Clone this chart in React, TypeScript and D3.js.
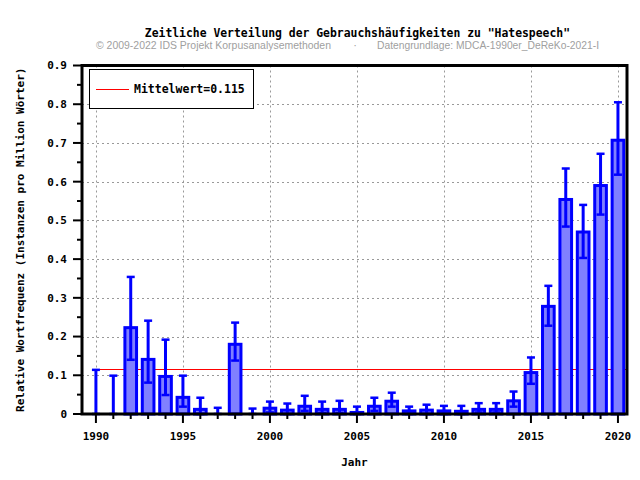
import React, { useEffect, useRef } from "react";
import * as d3 from "d3";

const W = 640;
const H = 480;

const years = [
  1990, 1991, 1992, 1993, 1994, 1995, 1996, 1997, 1998, 1999, 2000, 2001, 2002, 2003, 2004, 2005,
  2006, 2007, 2008, 2009, 2010, 2011, 2012, 2013, 2014, 2015, 2016, 2017, 2018, 2019, 2020,
];
const values = [
  0, 0, 0.223, 0.141, 0.097, 0.043, 0.012, 0, 0.18, 0, 0.015, 0.01, 0.02, 0.012, 0.012, 0.004,
  0.02, 0.033, 0.008, 0.01, 0.008, 0.007, 0.012, 0.012, 0.034, 0.107, 0.278, 0.554, 0.47, 0.59, 0.707,
];
const errLow = [
  0, 0, 0.14, 0.081, 0.049, 0.019, 0, 0, 0.138, 0, 0.004, 0, 0.008, 0.003, 0.003, 0,
  0.008, 0.019, 0, 0, 0, 0, 0.004, 0.004, 0.019, 0.078, 0.228, 0.484, 0.403, 0.515, 0.618,
];
const errHigh = [
  0.114, 0.099, 0.354, 0.241, 0.192, 0.099, 0.042, 0.016, 0.236, 0.014, 0.032, 0.027, 0.047, 0.032, 0.034, 0.019,
  0.042, 0.055, 0.019, 0.024, 0.021, 0.021, 0.028, 0.028, 0.058, 0.146, 0.331, 0.634, 0.54, 0.672, 0.805,
];
const meanValue = 0.115;
const xMajorTicks = [1990, 1995, 2000, 2005, 2010, 2015, 2020];
const yMajorTicks = [0, 0.1, 0.2, 0.3, 0.4, 0.5, 0.6, 0.7, 0.8, 0.9];
const yMinorTicks = [0.05, 0.15, 0.25, 0.35, 0.45, 0.55, 0.65, 0.75, 0.85];

const MONO = "'DejaVu Sans Mono', monospace";

const App: React.FC = () => {
  const ref = useRef<SVGSVGElement>(null);

  useEffect(() => {
    document.body.style.margin = "0";
    if (!ref.current) return;
    const svg = d3.select(ref.current);
    svg.selectAll("*").remove();

    const left = 82;
    const right = 627;
    const top = 65.5;
    const bottom = 414;

    const x = d3.scaleLinear().domain([1989.2, 2020.52]).range([left, right]);
    const y = d3.scaleLinear().domain([0, 0.9]).range([bottom, top]);
    const barW = x(1990.67) - x(1990);

    // grid
    const grid = svg.append("g").attr("stroke", "#999").attr("stroke-width", 1).attr("stroke-dasharray", "2,3");
    grid.selectAll("line.v")
      .data(xMajorTicks)
      .enter()
      .append("line")
      .attr("x1", (d) => Math.round(x(d)) + 0.5)
      .attr("x2", (d) => Math.round(x(d)) + 0.5)
      .attr("y1", top)
      .attr("y2", bottom);
    grid.selectAll("line.h")
      .data(yMajorTicks.slice(1, -1))
      .enter()
      .append("line")
      .attr("x1", left)
      .attr("x2", right)
      .attr("y1", (d) => Math.round(y(d)) + 0.5)
      .attr("y2", (d) => Math.round(y(d)) + 0.5);

    // mean line
    svg.append("line")
      .attr("x1", x(1990))
      .attr("x2", right)
      .attr("y1", Math.round(y(meanValue)) + 0.5)
      .attr("y2", Math.round(y(meanValue)) + 0.5)
      .attr("stroke", "#ff0000")
      .attr("stroke-width", 1);

    const rows = years.map((yr, i) => ({ yr, v: values[i], lo: errLow[i], hi: errHigh[i] }));

    // bars
    svg.selectAll("rect.bar")
      .data(rows.filter((d) => d.v > 0))
      .enter()
      .append("rect")
      .attr("x", (d) => x(d.yr) - barW / 2)
      .attr("width", barW)
      .attr("y", (d) => y(d.v))
      .attr("height", (d) => y(0) - y(d.v))
      .attr("fill", "#8080ff")
      .attr("stroke", "#0000ff")
      .attr("stroke-width", 3);

    // error bars
    const err = svg.append("g").attr("stroke", "#0000ff");
    err.selectAll("line.e")
      .data(rows)
      .enter()
      .append("line")
      .attr("x1", (d) => x(d.yr))
      .attr("x2", (d) => x(d.yr))
      .attr("y1", (d) => y(d.lo))
      .attr("y2", (d) => y(d.hi))
      .attr("stroke-width", 3);
    err.selectAll("line.ct")
      .data(rows)
      .enter()
      .append("line")
      .attr("x1", (d) => x(d.yr) - 4)
      .attr("x2", (d) => x(d.yr) + 4)
      .attr("y1", (d) => y(d.hi))
      .attr("y2", (d) => y(d.hi))
      .attr("stroke-width", 2.5);
    err.selectAll("line.cb")
      .data(rows)
      .enter()
      .append("line")
      .attr("x1", (d) => x(d.yr) - 4)
      .attr("x2", (d) => x(d.yr) + 4)
      .attr("y1", (d) => y(d.lo))
      .attr("y2", (d) => y(d.lo))
      .attr("stroke-width", 2.5);

    // ticks
    const ticks = svg.append("g").attr("stroke", "#000").attr("stroke-width", 2);
    ticks.selectAll("line.xm")
      .data(years)
      .enter()
      .append("line")
      .attr("x1", (d) => x(d))
      .attr("x2", (d) => x(d))
      .attr("y1", bottom)
      .attr("y2", (d) => (xMajorTicks.includes(d) ? bottom + 9 : bottom + 5));
    ticks.selectAll("line.ym")
      .data(yMajorTicks)
      .enter()
      .append("line")
      .attr("x1", left - 9)
      .attr("x2", left)
      .attr("y1", (d) => y(d))
      .attr("y2", (d) => y(d));
    ticks.selectAll("line.yn")
      .data(yMinorTicks)
      .enter()
      .append("line")
      .attr("x1", left - 5)
      .attr("x2", left)
      .attr("y1", (d) => y(d))
      .attr("y2", (d) => y(d));

    // frame
    svg.append("rect")
      .attr("x", left)
      .attr("y", top)
      .attr("width", right - left)
      .attr("height", bottom - top)
      .attr("fill", "none")
      .attr("stroke", "#000")
      .attr("stroke-width", 3);

    // tick labels
    svg.selectAll("text.xl")
      .data(xMajorTicks)
      .enter()
      .append("text")
      .attr("x", (d) => x(d))
      .attr("y", 440)
      .attr("text-anchor", "middle")
      .style("font-family", MONO)
      .style("font-weight", "bold")
      .style("font-size", "11px")
      .text((d) => String(d));
    svg.selectAll("text.yl")
      .data(yMajorTicks)
      .enter()
      .append("text")
      .attr("x", 67)
      .attr("y", (d) => y(d))
      .attr("dy", "0.35em")
      .attr("text-anchor", "end")
      .style("font-family", MONO)
      .style("font-weight", "bold")
      .style("font-size", "11px")
      .text((d) => (d === 0 ? "0" : d3.format(".1f")(d)));

    // axis titles
    svg.append("text")
      .attr("x", (left + right) / 2)
      .attr("y", 466)
      .attr("text-anchor", "middle")
      .style("font-family", MONO)
      .style("font-weight", "bold")
      .style("font-size", "11px")
      .text("Jahr");
    svg.append("text")
      .attr("transform", `translate(24,${(top + bottom) / 2}) rotate(-90)`)
      .attr("text-anchor", "middle")
      .style("font-family", MONO)
      .style("font-weight", "bold")
      .style("font-size", "11px")
      .text("Relative Wortfrequenz (Instanzen pro Million Wörter)");

    // title
    svg.append("text")
      .attr("x", 570)
      .attr("y", 36.5)
      .attr("text-anchor", "end")
      .style("font-family", MONO)
      .style("font-weight", "bold")
      .style("font-size", "11.4px")
      .text('Zeitliche Verteilung der Gebrauchshäufigkeiten zu "Hatespeech"');

    const sub = svg.append("g")
      .style("font-family", "'Liberation Sans', Arial, sans-serif")
      .style("font-size", "11px")
      .attr("fill", "#a0a0a0");
    sub.append("text")
      .attr("x", 96)
      .attr("y", 49)
      .attr("textLength", 235)
      .attr("lengthAdjust", "spacingAndGlyphs")
      .text("© 2009-2022 IDS Projekt Korpusanalysemethoden");
    sub.append("text").attr("x", 355).attr("y", 49).attr("text-anchor", "middle").text("·");
    sub.append("text")
      .attr("x", 377)
      .attr("y", 49)
      .attr("textLength", 222)
      .attr("lengthAdjust", "spacingAndGlyphs")
      .text("Datengrundlage: MDCA-1990er_DeReKo-2021-I");

    // legend
    const legend = svg.append("g");
    legend.append("rect")
      .attr("x", 89.5)
      .attr("y", 69.5)
      .attr("width", 164)
      .attr("height", 39)
      .attr("fill", "#fff")
      .attr("stroke", "#000")
      .attr("stroke-width", 1);
    legend.append("line")
      .attr("x1", 96)
      .attr("x2", 129)
      .attr("y1", 89.5)
      .attr("y2", 89.5)
      .attr("stroke", "#ff0000")
      .attr("stroke-width", 1);
    legend.append("text")
      .attr("x", 134)
      .attr("y", 93)
      .style("font-family", MONO)
      .style("font-weight", "bold")
      .style("font-size", "11.5px")
      .text(`Mittelwert=${meanValue}`);
  }, []);

  return <svg ref={ref} width={W} height={H} style={{ display: "block", background: "#fff" }} />;
};

export default App;
